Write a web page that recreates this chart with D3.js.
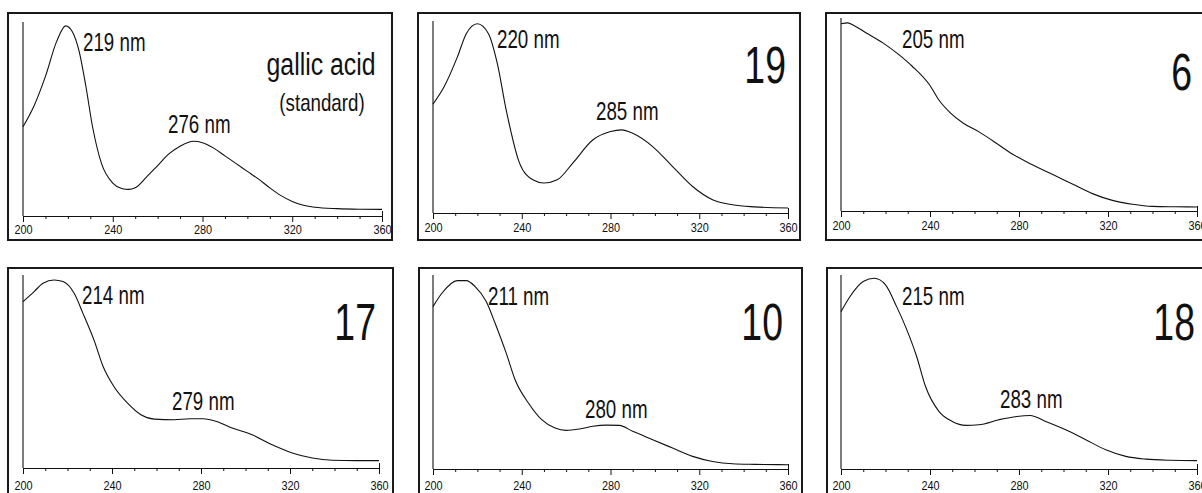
<!DOCTYPE html>
<html>
<head>
<meta charset="utf-8">
<script src="https://cdn.jsdelivr.net/npm/d3@7"></script>
<style>
  html, body { margin: 0; padding: 0; background: #fff; }
  svg { display: block; }
  text { font-family: "Liberation Sans", Arial, sans-serif; fill: #111; }
</style>
</head>
<body>
<div id="chart"></div>
<script>
// ---- data (relative absorbance) ----
const panelTitles = ['gallic acid', '19', '6', '17', '10', '18'];
const panelSubtitles = ['(standard)', '', '', '', '', ''];
const peakLabels = [
  ['219 nm', '276 nm'],
  ['220 nm', '285 nm'],
  ['205 nm'],
  ['214 nm', '279 nm'],
  ['211 nm', '280 nm'],
  ['215 nm', '283 nm'],
];
const xTicks = [200, 210, 220, 230, 240, 250, 260, 270, 280, 290, 300, 310, 320, 330, 340, 350, 360];
const xTickLabels = [200, 240, 280, 320, 360];

const gallicWl = [200, 205, 210, 215, 219, 222, 225, 228, 231, 235, 240, 244, 247, 250, 255, 260, 265, 270, 276, 280, 285, 290, 295, 300, 305, 310, 315, 320, 325, 330, 340, 350, 360];
const gallicAbs = [0.46, 0.57, 0.72, 0.90, 0.98, 0.95, 0.85, 0.67, 0.46, 0.27, 0.17, 0.142, 0.137, 0.145, 0.20, 0.26, 0.32, 0.36, 0.385, 0.378, 0.35, 0.31, 0.27, 0.23, 0.19, 0.145, 0.105, 0.075, 0.055, 0.045, 0.038, 0.035, 0.034];

const c19Wl = [200, 205, 211, 215, 220, 225, 229, 233, 239, 245, 250, 256, 263, 272, 280, 285, 290, 299, 308, 317, 326, 335, 345, 360];
const c19Abs = [0.567, 0.657, 0.813, 0.934, 0.986, 0.934, 0.778, 0.536, 0.26, 0.173, 0.156, 0.173, 0.26, 0.38, 0.424, 0.433, 0.415, 0.346, 0.242, 0.138, 0.069, 0.043, 0.032, 0.026];

const c6Wl = [200, 203, 206, 211, 219, 226, 232, 240, 244, 249, 255, 262, 270, 277, 286, 295, 304, 313, 322, 331, 340, 350, 360];
const c6Abs = [0.97, 0.975, 0.96, 0.925, 0.87, 0.81, 0.75, 0.65, 0.575, 0.51, 0.455, 0.41, 0.35, 0.295, 0.24, 0.19, 0.14, 0.09, 0.055, 0.035, 0.024, 0.022, 0.021];

const c17Wl = [200, 205, 209, 214, 218, 223, 227, 232, 236, 241, 247, 253, 259, 268, 275, 281, 287, 294, 303, 312, 321, 330, 339, 350, 360];
const c17Abs = [0.862, 0.914, 0.957, 0.974, 0.966, 0.905, 0.80, 0.66, 0.526, 0.42, 0.336, 0.276, 0.253, 0.25, 0.255, 0.255, 0.241, 0.207, 0.172, 0.12, 0.078, 0.052, 0.04, 0.038, 0.038];

const c10Wl = [200, 204, 211, 215, 219, 224, 228, 233, 237, 243, 249, 255, 260, 266, 272, 278, 284, 290, 299, 308, 317, 326, 335, 345, 360];
const c10Abs = [0.837, 0.906, 0.971, 0.971, 0.94, 0.863, 0.751, 0.597, 0.46, 0.34, 0.254, 0.211, 0.199, 0.206, 0.22, 0.226, 0.225, 0.194, 0.151, 0.108, 0.065, 0.039, 0.027, 0.024, 0.022];

const c18Wl = [200, 204, 210, 215, 220, 225, 229, 234, 238, 244, 250, 256, 262, 271, 279, 285, 292, 301, 310, 319, 328, 337, 348, 360];
const c18Abs = [0.811, 0.888, 0.966, 0.983, 0.949, 0.837, 0.734, 0.58, 0.425, 0.297, 0.245, 0.225, 0.228, 0.254, 0.271, 0.276, 0.245, 0.202, 0.151, 0.099, 0.065, 0.051, 0.045, 0.043];

const spectra = [
  [gallicWl, gallicAbs],
  [c19Wl, c19Abs],
  [c6Wl, c6Abs],
  [c17Wl, c17Abs],
  [c10Wl, c10Abs],
  [c18Wl, c18Abs],
];

// ---- layout (pixels) ----
const width = 1202;
const height = 493;
const condense = 0.78; // narrow face look, the page has no Arial Narrow
const layout = [
  { box: [8, 13, 384, 227], x0: 23, x1: 382, axisY: 216, yTop: 22, labelY: 18,
    peaks: [[83, 51], [168, 133]], title: [321, 75, 31, 'middle'], sub: [322, 111, 24] },
  { box: [418, 13, 382, 227], x0: 433, x1: 788, axisY: 213, yTop: 21, labelY: 19,
    peaks: [[497, 48], [596, 120]], title: [786, 83, 52, 'end'] },
  { box: [826, 13, 390, 227], x0: 841, x1: 1197, axisY: 211, yTop: 18, labelY: 19,
    peaks: [[902, 48]], title: [1192, 90, 52, 'end'] },
  { box: [8, 268, 385, 240], x0: 23, x1: 379, axisY: 468, yTop: 275, labelY: 21.5,
    peaks: [[82, 304], [172, 410]], title: [376, 340, 52, 'end'] },
  { box: [419, 268, 383, 240], x0: 433, x1: 788, axisY: 469, yTop: 275, labelY: 21,
    peaks: [[488, 305], [585, 418]], title: [783, 340, 52, 'end'] },
  { box: [827, 268, 390, 240], x0: 841, x1: 1197, axisY: 469, yTop: 275, labelY: 21,
    peaks: [[902, 305], [1000, 408]], title: [1195, 340, 52, 'end'] },
];

const svg = d3.select('#chart')
  .append('svg')
  .attr('width', width)
  .attr('height', height);

// text squeezed horizontally around its anchor
function narrowText(sel, x, y, size, anchor, str, sx = condense) {
  return sel.append('text')
    .attr('transform', `translate(${x},${y}) scale(${sx},1)`)
    .attr('font-size', size)
    .attr('text-anchor', anchor)
    .text(str);
}

layout.forEach((p, i) => {
  const g = svg.append('g');
  const [wl, ab] = spectra[i];

  const xScale = d3.scaleLinear([200, 360], [p.x0, p.x1]);
  const yScale = d3.scaleLinear([0, 1], [p.axisY, p.yTop]);

  // frame
  g.append('rect')
    .attr('x', p.box[0])
    .attr('y', p.box[1])
    .attr('width', p.box[2])
    .attr('height', p.box[3])
    .attr('fill', 'none')
    .attr('stroke', '#1a1a1a')
    .attr('stroke-width', 2);

  // x axis
  const xAxis = d3.axisBottom(xScale)
    .tickValues(xTicks)
    .tickSizeOuter(0)
    .tickFormat((d) => (xTickLabels.includes(d) ? d : ''));

  const gX = g.append('g')
    .attr('transform', `translate(0,${p.axisY})`)
    .call(xAxis);
  gX.select('.domain').attr('stroke', '#111').attr('stroke-width', 1.2);
  gX.selectAll('.tick line')
    .attr('stroke', '#111')
    .attr('y1', (d) => (d === 360 ? -5 : 0))
    .attr('y2', (d) => (xTickLabels.includes(d) ? 6 : 3));
  gX.selectAll('.tick text')
    .attr('y', 0)
    .attr('dy', 0)
    .attr('transform', `translate(0,${p.labelY}) scale(0.84,1)`)
    .attr('font-size', 13)
    .attr('font-family', null);

  // y axis line (no ticks)
  g.append('line')
    .attr('x1', xScale(200))
    .attr('x2', xScale(200))
    .attr('y1', yScale(0))
    .attr('y2', yScale(1))
    .attr('stroke', '#111')
    .attr('stroke-width', 1.1);

  // spectrum
  const line = d3.line()
    .x((d) => xScale(d[0]))
    .y((d) => yScale(d[1]))
    .curve(d3.curveMonotoneX);

  g.append('path')
    .datum(d3.zip(wl, ab))
    .attr('fill', 'none')
    .attr('stroke', '#111')
    .attr('stroke-width', 1.1)
    .attr('d', line);

  // peak labels
  peakLabels[i].forEach((t, k) => {
    narrowText(g, p.peaks[k][0], p.peaks[k][1], 25, 'start', t, 0.75);
  });

  // panel title
  narrowText(g, p.title[0], p.title[1], p.title[2], p.title[3], panelTitles[i],
    p.title[3] === 'middle' ? 0.8 : 0.72);

  if (panelSubtitles[i]) {
    narrowText(g, p.sub[0], p.sub[1], p.sub[2], 'middle', panelSubtitles[i], 0.78);
  }
});
</script>
</body>
</html>
